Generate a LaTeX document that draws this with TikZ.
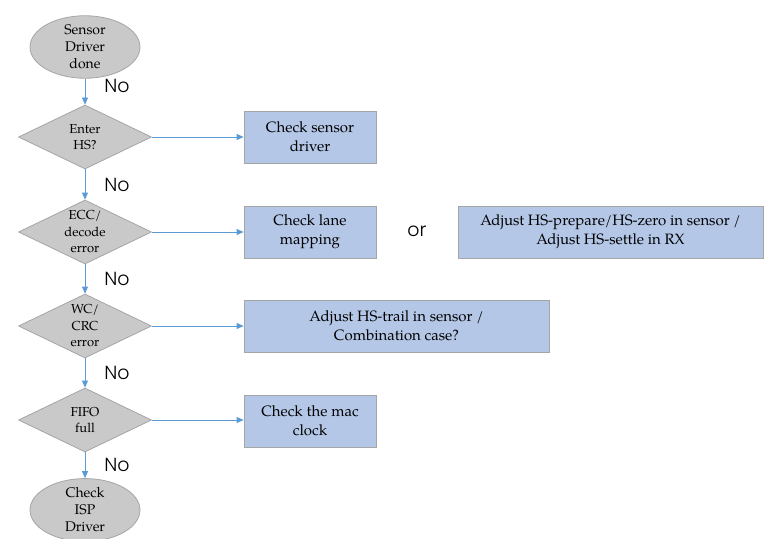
\documentclass[tikz,border=0pt]{standalone}
\usepackage{fontspec}
\setmainfont{TeX Gyre Pagella}
\newfontfamily\nofont{Poppins Light}
\usetikzlibrary{shapes.geometric,arrows.meta}
\definecolor{grayfill}{HTML}{C9C9C9}
\definecolor{grayline}{HTML}{A5A5A5}
\definecolor{boxfill}{HTML}{B4C7E7}
\definecolor{arrowc}{HTML}{5B9BD5}
\tikzset{
  term/.style={ellipse, draw=grayline, fill=grayfill, line width=0.8pt, minimum width=110pt, minimum height=52pt, inner sep=0pt, align=center, font=\fontsize{14}{17}\selectfont},
  dec/.style={diamond, draw=grayline, fill=grayfill, line width=0.8pt, minimum width=133pt, minimum height=64pt, inner sep=0pt, aspect=2.08, align=center, font=\fontsize{13}{16.5}\selectfont},
  boxn/.style={rectangle, draw=grayline, fill=boxfill, line width=0.8pt, minimum height=52pt, inner sep=0pt, align=center, font=\fontsize{15}{19}\selectfont},
  conn/.style={draw=arrowc, line width=0.8pt, -{Triangle[length=7pt,width=6pt]}},
  nolab/.style={font=\nofont\fontsize{19}{19}\selectfont, inner sep=0pt},
}
\begin{document}
\begin{tikzpicture}[x=1pt,y=-1pt]
\useasboundingbox (0,0) rectangle (768,538);
\node[term] (start) at (85,47) {Sensor\\Driver\\done};
\node[dec] (d1) at (85,137) {Enter\\HS?};
\node[dec] (d2) at (85,232) {ECC/\\decode\\error};
\node[dec] (d3) at (85,326) {WC/\\CRC\\error};
\node[dec] (d4) at (85,420) {FIFO\\full};
\node[term, minimum height=54pt] (end) at (85,510) {Check\\ISP\\Driver};
\node[boxn, minimum width=132pt] (b1) at (310,137) {Check sensor\\driver};
\node[boxn, minimum width=132pt] (b2) at (310,232) {Check lane\\mapping};
\node[boxn, minimum width=305pt] (b3) at (610.5,232) {Adjust HS-prepare/HS-zero in sensor /\\Adjust HS-settle in RX};
\node[boxn, minimum width=305pt] (b4) at (396.5,326) {Adjust HS-trail in sensor /\\Combination case?};
\node[boxn, minimum width=132pt] (b5) at (310,421) {Check the mac\\clock};
\node[font=\nofont\fontsize{19}{19}\selectfont] (or) at (417,231) {or};
\node[nolab] (n1) at (117,86) {No};
\node[nolab] (n2) at (117,185) {No};
\node[nolab] (n3) at (117,279) {No};
\node[nolab] (n4) at (117,373) {No};
\node[nolab] (n5) at (117,465) {No};
\draw[conn] (start) -- (d1);
\draw[conn] (d1) -- (d2);
\draw[conn] (d2) -- (d3);
\draw[conn] (d3) -- (d4);
\draw[conn] (d4) -- (end);
\draw[conn] (d1.east) -- (d1.east -| b1.west);
\draw[conn] (d2.east) -- (d2.east -| b2.west);
\draw[conn] (d3.east) -- (d3.east -| b4.west);
\draw[conn] (d4.east) -- (d4.east -| b5.west);
\end{tikzpicture}
\end{document}
